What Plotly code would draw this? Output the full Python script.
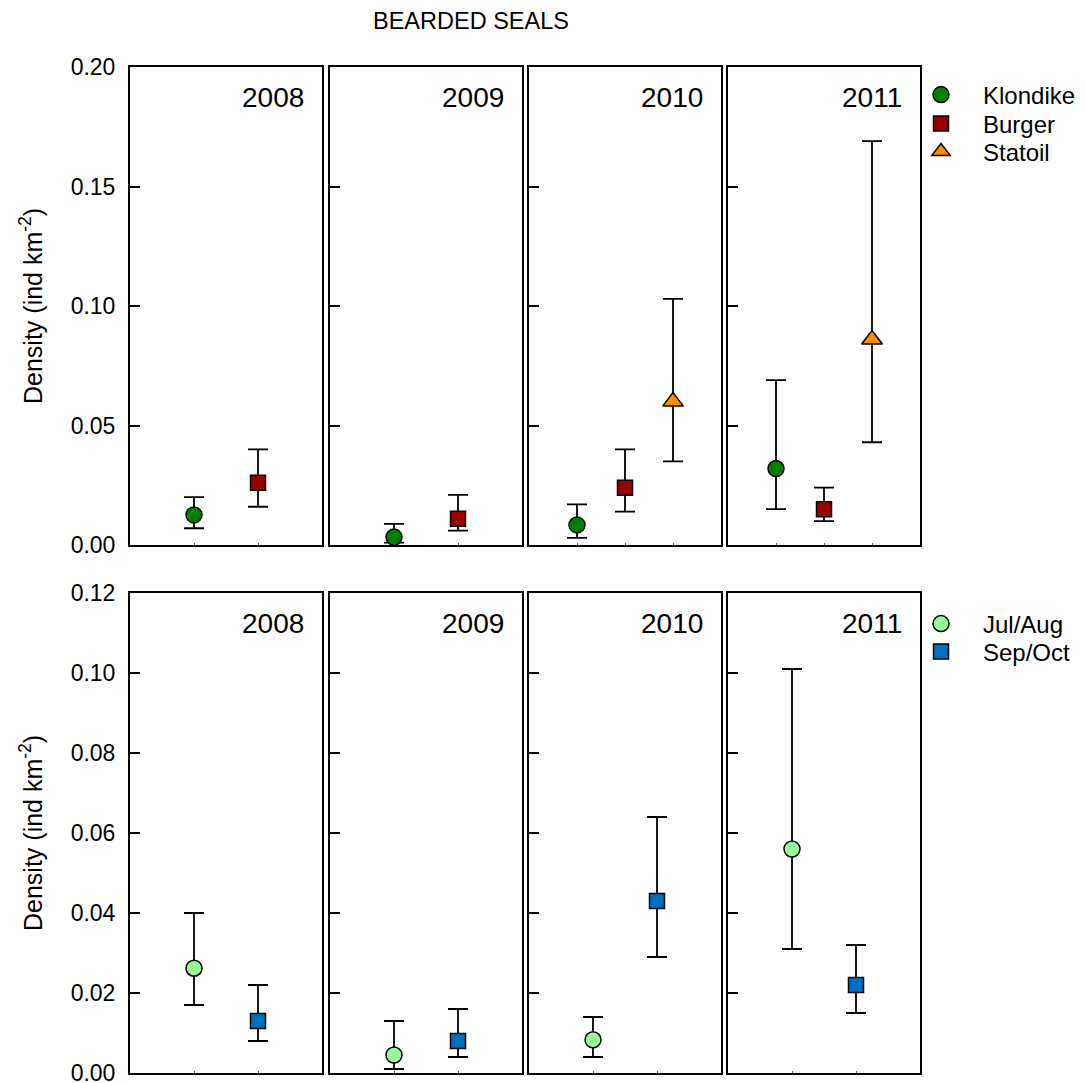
import plotly.graph_objects as go

years = ["2008", "2009", "2010", "2011"]

# Top row: sites
klondike_mean = [0.0126, 0.0033, 0.0084, 0.032]
klondike_lo = [0.007, 0.001, 0.003, 0.015]
klondike_hi = [0.020, 0.0088, 0.017, 0.069]

burger_mean = [0.026, 0.011, 0.024, 0.015]
burger_lo = [0.016, 0.006, 0.014, 0.010]
burger_hi = [0.040, 0.021, 0.040, 0.024]

statoil_mean = [None, None, 0.060, 0.086]
statoil_lo = [None, None, 0.035, 0.043]
statoil_hi = [None, None, 0.103, 0.169]

# Bottom row: season
julaug_mean = [0.0262, 0.0045, 0.0083, 0.056]
julaug_lo = [0.017, 0.001, 0.004, 0.031]
julaug_hi = [0.040, 0.013, 0.014, 0.101]

sepoct_mean = [0.013, 0.008, 0.043, 0.022]
sepoct_lo = [0.008, 0.004, 0.029, 0.015]
sepoct_hi = [0.022, 0.016, 0.064, 0.032]

top_ticks = [0.00, 0.05, 0.10, 0.15, 0.20]
bottom_ticks = [0.00, 0.02, 0.04, 0.06, 0.08, 0.10, 0.12]

FONT = "Arial, Liberation Sans, sans-serif"

W, H = 1085, 1083
PL, PR, PT, PB = 130, 920, 67, 1073  # plot area in page pixels
L, T = PL, PT
R = W - PR
B = H - PB
pw = PR - PL
ph = PB - PT


def px_x(x):
    return (x - PL) / pw


def px_y(y):
    return (PB - y) / ph


panel_px = [(130, 322), (330, 522), (529, 721), (728, 920)]
xdomains = [(px_x(a), px_x(b)) for a, b in panel_px]
top_dom = (px_y(545), 1.0)
bot_dom = (0.0, px_y(593))

fig = go.Figure()


def err(mean, lo, hi):
    return dict(
        type="data", symmetric=False,
        array=[h - m for h, m in zip(hi, mean)],
        arrayminus=[m - l for m, l in zip(mean, lo)],
        color="black", thickness=1.8, width=10,
    )


def add_pt(xa, ya, xval, m, lo, hi, name, symbol, color, size, show, legend):
    fig.add_trace(go.Scatter(
        x=[xval], y=[m], mode="markers", name=name,
        xaxis=xa, yaxis=ya,
        marker=dict(symbol=symbol, color=color, size=size,
                    line=dict(color="black", width=1.5)),
        error_y=err([m], [lo], [hi]),
        showlegend=show, legend=legend, legendgroup=name,
    ))


green, red, orange = "#008000", "#990000", "#FF8C00"
light, blue = "#98FB98", "#0070C0"

for i, yr in enumerate(years):
    ti = i + 1
    bi = i + 5
    xa_t = "x" if ti == 1 else f"x{ti}"
    ya_t = "y" if ti == 1 else f"y{ti}"
    xa_b, ya_b = f"x{bi}", f"y{bi}"
    three = statoil_mean[i] is not None
    # top
    add_pt(xa_t, ya_t, 1, klondike_mean[i], klondike_lo[i], klondike_hi[i],
           "Klondike", "circle", green, 16, i == 0, "legend")
    add_pt(xa_t, ya_t, 2, burger_mean[i], burger_lo[i], burger_hi[i],
           "Burger", "square", red, 15, i == 0, "legend2")
    if three:
        add_pt(xa_t, ya_t, 3, statoil_mean[i], statoil_lo[i], statoil_hi[i],
               "Statoil", "triangle-up", orange, 18, i == 2, "legend3")
    # bottom
    add_pt(xa_b, ya_b, 1, julaug_mean[i], julaug_lo[i], julaug_hi[i],
           "Jul/Aug", "circle", light, 16, i == 0, "legend4")
    add_pt(xa_b, ya_b, 2, sepoct_mean[i], sepoct_lo[i], sepoct_hi[i],
           "Sep/Oct", "square", blue, 15, i == 0, "legend5")

    axis_common = dict(showline=True, linecolor="black", linewidth=2, mirror=True,
                       showgrid=False, zeroline=False, automargin=False)
    ytick_common = dict(ticks="inside", ticklen=10, tickcolor="black", tickwidth=1.5,
                        showticklabels=(i == 0), ticklabelstandoff=8,
                        ticklabeloverflow="allow",
                        tickfont=dict(size=23, color="black", family=FONT))
    tn = 4 if three else 3
    fig.layout[f"xaxis{'' if ti == 1 else ti}"] = dict(
        domain=xdomains[i], range=[0, tn], anchor=ya_t,
        tickvals=list(range(1, tn)), ticks="inside", ticklen=2, tickcolor="#555",
        showticklabels=False, **axis_common)
    fig.layout[f"yaxis{'' if ti == 1 else ti}"] = dict(
        domain=top_dom, range=[0, 0.2], anchor=xa_t,
        tickvals=top_ticks, ticktext=[f"{v:.2f}" for v in top_ticks],
        **ytick_common, **axis_common)
    fig.layout[f"xaxis{bi}"] = dict(
        domain=xdomains[i], range=[0, 3], anchor=ya_b,
        tickvals=[1, 2], ticks="inside", ticklen=2, tickcolor="#555",
        showticklabels=False, **axis_common)
    fig.layout[f"yaxis{bi}"] = dict(
        domain=bot_dom, range=[0, 0.12], anchor=xa_b,
        tickvals=bottom_ticks, ticktext=[f"{v:.2f}" for v in bottom_ticks],
        **ytick_common, **axis_common)

    for xa, ya in [(xa_t, ya_t), (xa_b, ya_b)]:
        fig.add_annotation(text=yr, xref=f"{xa} domain", yref=f"{ya} domain",
                           x=0.918, y=0.936, xanchor="right", yanchor="middle",
                           showarrow=False,
                           font=dict(size=28, color="black", family=FONT))

ytitle = "Density (ind km<sup>-2</sup>)"
for center in (306, 833):
    fig.add_annotation(text=ytitle, xref="paper", yref="paper",
                       x=px_x(31), y=px_y(center),
                       textangle=-90, showarrow=False, xanchor="center", yanchor="middle",
                       font=dict(size=25, color="black", family=FONT))

fig.add_annotation(text="BEARDED SEALS", xref="paper", yref="paper",
                   x=px_x(471), y=px_y(21),
                   showarrow=False, xanchor="center", yanchor="middle",
                   font=dict(size=23.5, color="black", family=FONT))

leg_common = dict(xanchor="left", yanchor="middle", x=px_x(899), itemwidth=74,
                  font=dict(size=24, family=FONT, color="black"),
                  bgcolor="rgba(0,0,0,0)", tracegroupgap=0, itemsizing="trace")
leg_centers = {"legend": 95, "legend2": 124, "legend3": 152,
               "legend4": 624, "legend5": 652}

fig.update_layout(
    width=W, height=H,
    margin=dict(l=L, r=R, t=T, b=B, autoexpand=False),
    paper_bgcolor="white", plot_bgcolor="white",
    font=dict(family=FONT, color="black"),
    **{k: dict(y=px_y(v), **leg_common) for k, v in leg_centers.items()},
)

fig.write_html(
    "out.html",
    config={"displayModeBar": False},
    post_script="document.body.style.margin='0';document.body.style.overflow='hidden';",
)
